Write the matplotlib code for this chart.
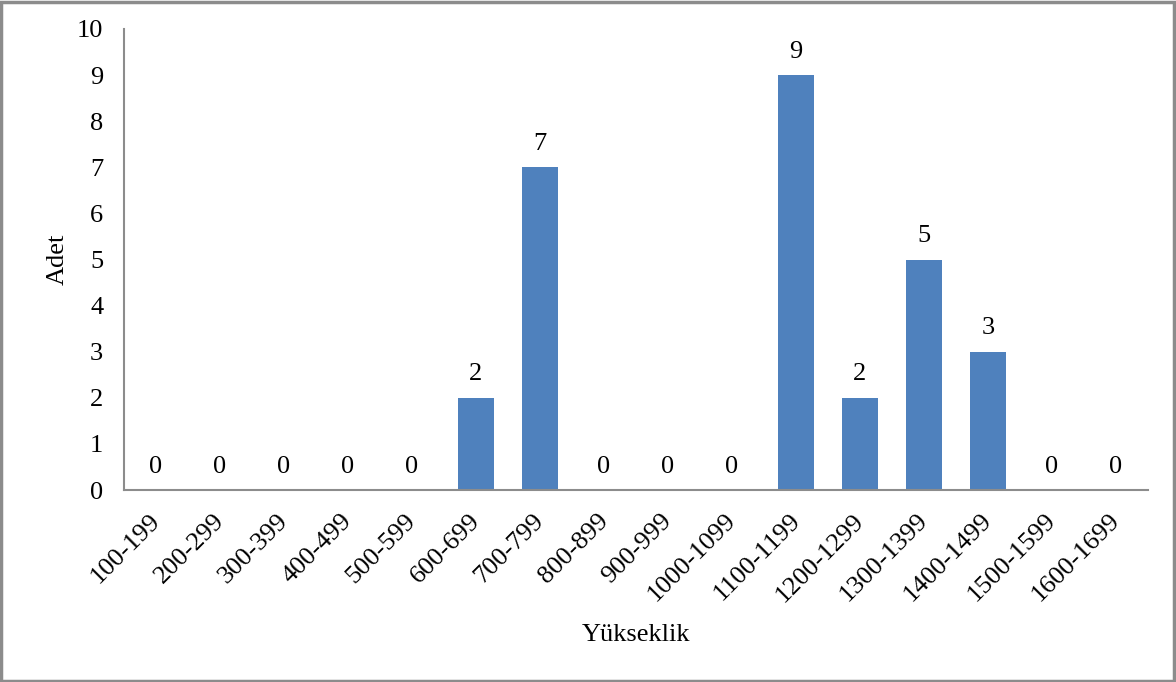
import matplotlib
matplotlib.use("Agg")
import matplotlib.pyplot as plt
import matplotlib.transforms as mtransforms
from matplotlib.patches import Rectangle

categories = ["100-199", "200-299", "300-399", "400-499", "500-599", "600-699",
              "700-799", "800-899", "900-999", "1000-1099", "1100-1199",
              "1200-1299", "1300-1399", "1400-1499", "1500-1599", "1600-1699"]
counts = [0, 0, 0, 0, 0, 2, 7, 0, 0, 0, 9, 2, 5, 3, 0, 0]

plt.rcParams["font.family"] = ["Liberation Serif", "DejaVu Serif"]
FS = 19

fig = plt.figure(figsize=(11.76, 6.82), dpi=100)
ax = fig.add_axes([0.1055, 0.2815, 0.8705, 0.676])

x = list(range(len(categories)))
bars = ax.bar(x, counts, width=0.56, color="#4F81BD")

for xi, v in zip(x, counts):
    ax.annotate(str(v), (xi, v), xytext=(0, 9), textcoords="offset points",
                ha="center", va="bottom", fontsize=FS)

ax.set_xlim(-0.5, len(categories) - 0.5)
ax.set_ylim(0, 10)
ax.set_yticks(range(0, 11))
ax.set_xticks(x)
ax.set_xticklabels(categories, rotation=45, ha="right", rotation_mode="anchor", fontsize=FS)
ax.tick_params(axis="both", length=0, labelsize=FS)
ax.tick_params(axis="y", pad=15)
ax.tick_params(axis="x", pad=14)

# nudge rotated labels a little to the left
shift = mtransforms.ScaledTranslation(-0.07, 0, fig.dpi_scale_trans)
for lbl in ax.get_xticklabels():
    lbl.set_transform(lbl.get_transform() + shift)

for side in ["top", "right"]:
    ax.spines[side].set_visible(False)
for side in ["left", "bottom"]:
    ax.spines[side].set_color("#8c8c8c")
    ax.spines[side].set_linewidth(1.5)

ax.set_xlabel("Yükseklik", fontsize=FS, labelpad=13)
ax.set_ylabel("Adet", fontsize=FS, labelpad=6)

fig.patches.append(Rectangle((0.001, 0.002), 0.997, 0.995, transform=fig.transFigure,
                             fill=False, edgecolor="#8c8c8c", linewidth=2.5))

fig.savefig("out.png", dpi=100)
